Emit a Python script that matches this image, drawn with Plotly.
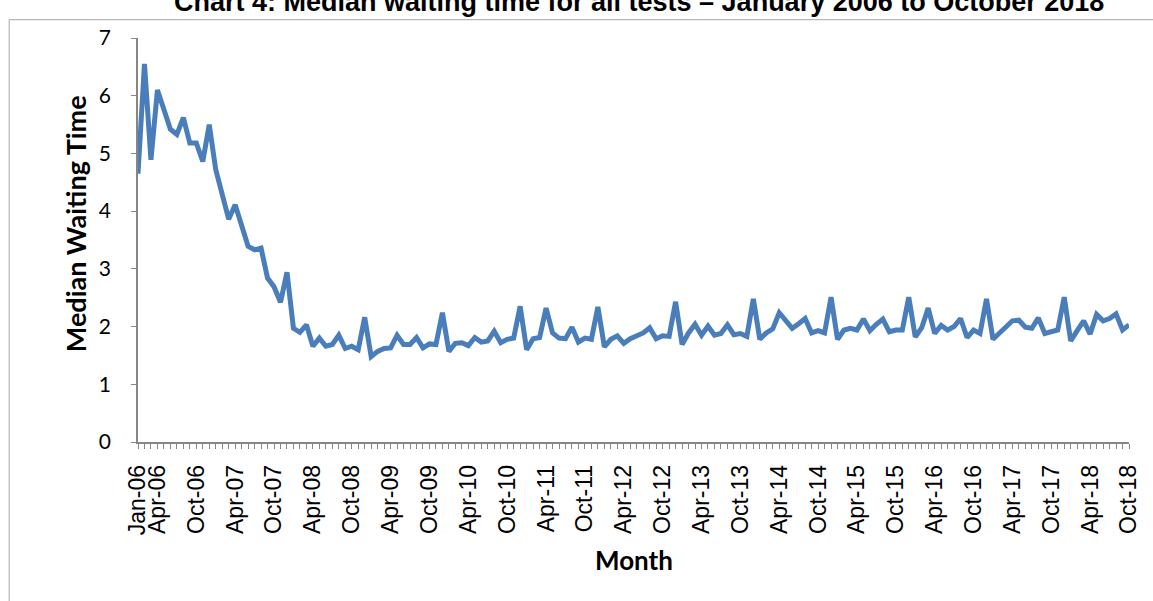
import pandas as pd
import plotly.graph_objects as go

# Monthly categories, January 2006 to October 2018
months = [d.strftime("%b-%y") for d in pd.date_range("2006-01-01", "2018-10-01", freq="MS")]

# Median waiting time per month
median_wait = [
    4.65, 6.55, 4.89, 6.10, 5.76, 5.42, 5.33, 5.62, 5.18, 5.18, 4.86, 5.50,
    4.72, 4.26, 3.86, 4.11, 3.73, 3.39, 3.33, 3.36, 2.84, 2.69, 2.42, 2.94,
    1.97, 1.90, 2.03, 1.66, 1.80, 1.66, 1.69, 1.85, 1.62, 1.66, 1.60, 2.16,
    1.48, 1.57, 1.62, 1.63, 1.85, 1.69, 1.69, 1.81, 1.63, 1.70, 1.69, 2.24,
    1.57, 1.71, 1.72, 1.67, 1.81, 1.73, 1.75, 1.92, 1.72, 1.78, 1.80, 2.35,
    1.60, 1.79, 1.81, 2.32, 1.89, 1.80, 1.79, 1.99, 1.73, 1.80, 1.78, 2.34,
    1.65, 1.78, 1.84, 1.71, 1.79, 1.85, 1.89, 1.98, 1.79, 1.84, 1.83, 2.43,
    1.69, 1.89, 2.04, 1.85, 2.01, 1.85, 1.88, 2.03, 1.86, 1.88, 1.83, 2.48,
    1.78, 1.89, 1.96, 2.24, 2.09, 1.97, 2.05, 2.14, 1.89, 1.93, 1.89, 2.51,
    1.78, 1.94, 1.97, 1.94, 2.13, 1.93, 2.04, 2.13, 1.91, 1.94, 1.94, 2.51,
    1.82, 1.98, 2.32, 1.88, 2.02, 1.94, 2.00, 2.14, 1.81, 1.94, 1.88, 2.48,
    1.78, 1.88, 1.99, 2.10, 2.11, 1.99, 1.97, 2.15, 1.88, 1.91, 1.94, 2.51,
    1.75, 1.93, 2.10, 1.87, 2.21, 2.10, 2.14, 2.22, 1.94, 2.03,
]

# Labelled months on the category axis (every month gets a tick mark)
labelled_months = ["Jan-06", "Apr-06"] + [
    f"{m}-{y:02d}" for y in range(6, 19) for m in ("Apr", "Oct")
    if not (y == 6 and m == "Apr")
]
tick_text = [m if m in labelled_months else "" for m in months]

title_text = "Chart 4: Median waiting time for all tests \u2013 January 2006 to October 2018"

AXIS_GREY = "#868686"

fig = go.Figure()
fig.add_trace(go.Scatter(
    x=months,
    y=median_wait,
    mode="lines",
    line=dict(color="#4a7ebb", width=5),
    hoverinfo="x+y",
    showlegend=False,
))

fig.update_layout(
    width=1153,
    height=601,
    autosize=False,
    margin=dict(l=138, r=13, t=38, b=159, pad=0),
    paper_bgcolor="white",
    plot_bgcolor="white",
    xaxis=dict(
        type="category",
        range=[0, len(months) - 1],
        tickmode="array",
        tickvals=months,
        ticktext=tick_text,
        tickangle=-90,
        ticks="outside",
        ticklen=5,
        tickcolor=AXIS_GREY,
        tickwidth=1,
        ticklabelstandoff=7,
        showline=True,
        linecolor=AXIS_GREY,
        linewidth=1.5,
        showgrid=False,
        zeroline=False,
        tickfont=dict(family="Liberation Sans, Arial", size=23, color="#000000"),
    ),
    yaxis=dict(
        range=[0, 7],
        tickmode="linear",
        tick0=0,
        dtick=1,
        ticks="outside",
        ticklen=5,
        tickcolor=AXIS_GREY,
        tickwidth=1,
        ticklabelstandoff=16,
        showline=True,
        linecolor=AXIS_GREY,
        linewidth=1.5,
        showgrid=False,
        zeroline=False,
        tickfont=dict(family="Lato, Open Sans", size=21, color="#000000"),
    ),
    shapes=[
        # outer chart frame
        dict(type="rect", xref="paper", yref="paper",
             x0=-0.130, y0=-0.5, x1=1.05, y1=1.0453,
             line=dict(color="#a6a6a6", width=1), fillcolor="rgba(0,0,0,0)",
             layer="below"),
    ],
    annotations=[
        dict(text=title_text, xref="paper", yref="paper", x=0.506, y=1.090,
             xanchor="center", yanchor="middle", showarrow=False,
             font=dict(family="Liberation Sans, Arial", size=27, color="#000000",
                       weight="bold")),
        dict(text="<b>Month</b>", xref="paper", yref="paper", x=0.5, y=-0.293,
             xanchor="center", yanchor="middle", showarrow=False,
             font=dict(family="Lato, Open Sans", size=26, color="#000000")),
        dict(text="<b>Median Waiting Time</b>", xref="paper", yref="paper",
             x=-0.0632, y=0.54, textangle=-90,
             xanchor="center", yanchor="middle", showarrow=False,
             font=dict(family="Lato, Open Sans", size=27, color="#000000")),
    ],
)

fig.write_html("out.html")
